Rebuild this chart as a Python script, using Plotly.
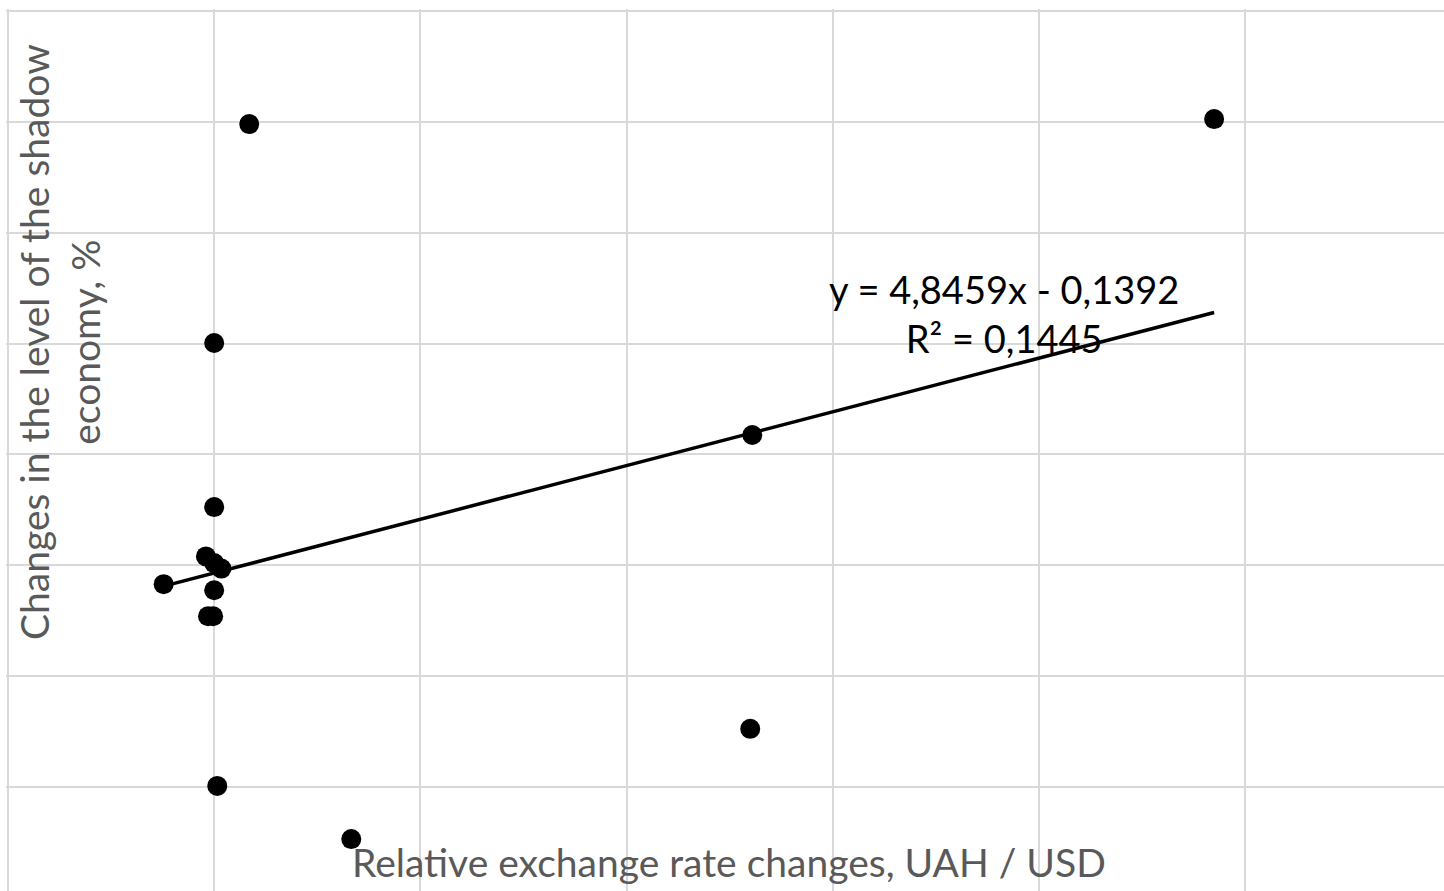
import plotly.graph_objects as go

# Relative UAH/USD exchange rate changes vs. change in shadow economy level
rate_change = [0.034, 0.970, 0.000, 0.522, 0.000, -0.008, 0.000, 0.007,
               -0.049, 0.000, -0.006, -0.001, 0.520, 0.003, 0.133]
shadow_change = [7.96, 8.05, 4.01, 2.35, 1.05, 0.16, 0.04, -0.06,
                 -0.34, -0.45, -0.92, -0.92, -2.95, -3.98, -4.94]

# Linear trend reported on the chart
slope = 4.8459
intercept = -0.1392
r_squared = 0.1445

x_min, x_max = min(rate_change), max(rate_change)
trend_x = [x_min, x_max]
trend_y = [slope * v + intercept for v in trend_x]

FONT = "Lato"
GRAY = "#595959"

fig = go.Figure()
fig.add_trace(go.Scatter(
    x=trend_x, y=trend_y, mode="lines",
    line=dict(color="black", width=3.5), hoverinfo="skip", showlegend=False,
))
fig.add_trace(go.Scatter(
    x=rate_change, y=shadow_change, mode="markers",
    marker=dict(color="black", size=20, line=dict(width=0)),
    showlegend=False,
))

fig.update_xaxes(
    range=[-0.20194, 1.193], dtick=0.2, tick0=0,
    showgrid=True, gridcolor="#d9d9d9", gridwidth=2,
    zeroline=False, showticklabels=False, showline=False, ticks="",
)
fig.update_yaxes(
    range=[-5.876, 10.036], dtick=2, tick0=0,
    showgrid=True, gridcolor="#d9d9d9", gridwidth=2,
    zeroline=False, showticklabels=False, showline=False, ticks="",
)

fig.add_annotation(
    text="Relative exchange rate changes, UAH / USD",
    xref="paper", yref="paper", x=0.5028, y=0.033,
    xanchor="center", yanchor="middle", showarrow=False,
    font=dict(family=FONT, size=39, color=GRAY),
)
fig.add_annotation(
    text="Changes in the level of the shadow<br>economy, %",
    xref="paper", yref="paper", x=0.0, y=0.6224,
    xanchor="center", yanchor="middle", xshift=53, showarrow=False,
    textangle=-90, align="center",
    font=dict(family=FONT, size=39, color=GRAY),
)
fig.add_annotation(
    text=f"y = {slope:.4f}x - {abs(intercept):.4f}".replace(".", ",")
         + "<br>" + f"R² = {r_squared:.4f}".replace(".", ","),
    xref="x", yref="y", x=0.766, y=4.55,
    xanchor="center", yanchor="middle", showarrow=False, align="center",
    font=dict(family=FONT, size=38, color="black"),
)

fig.update_layout(
    width=1444, height=891,
    margin=dict(l=6, r=0, t=9, b=0),
    paper_bgcolor="white", plot_bgcolor="white",
)

fig.write_html("out.html")
